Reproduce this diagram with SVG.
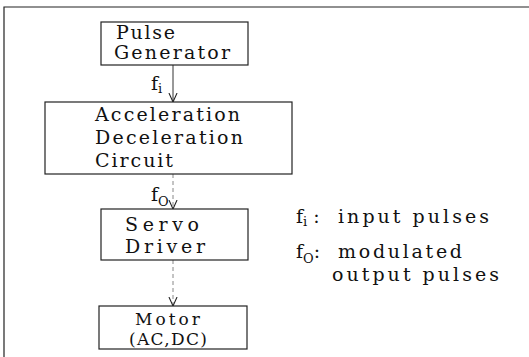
<svg xmlns="http://www.w3.org/2000/svg" width="529" height="357" viewBox="0 0 529 357">
<defs>
<marker id="arr" viewBox="0 0 10 10" refX="10" refY="5" markerWidth="9" markerHeight="10" markerUnits="userSpaceOnUse" orient="auto">
<path d="M0,0.5 L10,5 L0,9.5" fill="none" stroke="#222" stroke-width="1.2"/>
</marker>
</defs>
<style>
.box{fill:none;stroke:#222;stroke-width:1.2}
.t{font-family:"DejaVu Serif","Liberation Serif",serif;font-size:19px;fill:#111}
.m{font-size:17px}
.s{font-size:13px}
.c{fill:none;stroke:#333;stroke-width:1}
.d{stroke:#888;stroke-dasharray:4 3}
</style>
<rect width="529" height="357" fill="#fff"/>
<path d="M4,357 V7 H529" class="box"/>
<g id="connectors">
<line x1="173" y1="65" x2="173" y2="102" class="c" marker-end="url(#arr)"/>
<line x1="173" y1="174" x2="173" y2="209" class="c d" marker-end="url(#arr)"/>
<line x1="173" y1="260" x2="173" y2="306" class="c d" marker-end="url(#arr)"/>
<text class="t" x="151" y="90">f<tspan class="s" dy="3">i</tspan></text>
<text class="t" x="151" y="201">f<tspan class="s" dy="5">O</tspan></text>
</g>
<g id="pulse-generator">
<rect x="101" y="22" width="147" height="43" class="box"/>
<text class="t" x="116" y="39" textLength="59" lengthAdjust="spacing">Pulse</text>
<text class="t" x="114" y="59" textLength="116" lengthAdjust="spacing">Generator</text>
</g>
<g id="acc-dec-circuit">
<rect x="45" y="102" width="247" height="72" class="box"/>
<text class="t" x="95" y="121" textLength="145" lengthAdjust="spacing">Acceleration</text>
<text class="t" x="95" y="144" textLength="148" lengthAdjust="spacing">Deceleration</text>
<text class="t" x="95" y="167" textLength="78" lengthAdjust="spacing">Circuit</text>
</g>
<g id="servo-driver">
<rect x="101" y="209" width="147" height="51" class="box"/>
<text class="t" x="125" y="231" textLength="74" lengthAdjust="spacing">Servo</text>
<text class="t" x="125" y="253" textLength="80" lengthAdjust="spacing">Driver</text>
</g>
<g id="motor">
<rect x="99" y="306" width="148" height="43" class="box"/>
<text class="t m" x="135" y="325" textLength="65" lengthAdjust="spacing">Motor</text>
<text class="t m" x="129" y="345" textLength="78" lengthAdjust="spacing">(AC,DC)</text>
</g>
<g id="legend">
<text class="t" x="296" y="223">f<tspan class="s" dy="3">i</tspan><tspan dy="-3"> :</tspan></text>
<text class="t" x="338" y="223" textLength="151" lengthAdjust="spacing">input  pulses</text>
<text class="t" x="296" y="258">f<tspan class="s" dy="5">O</tspan><tspan dy="-5">:</tspan></text>
<text class="t" x="338" y="258" textLength="124" lengthAdjust="spacing">modulated</text>
<text class="t" x="332" y="281" textLength="167" lengthAdjust="spacing">output  pulses</text>
</g>
</svg>
